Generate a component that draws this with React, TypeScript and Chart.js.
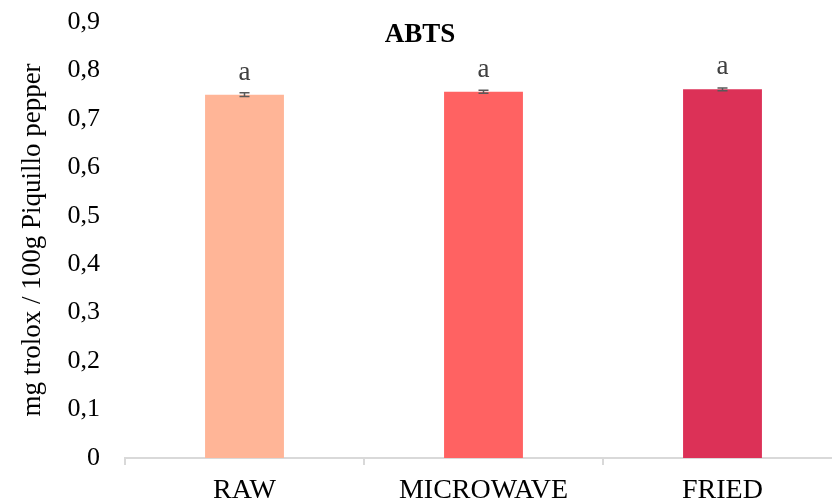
import React, { useEffect, useRef } from "react";
import { Chart, registerables } from "chart.js";

Chart.register(...registerables);

const categories = ["RAW", "MICROWAVE", "FRIED"];
const values = [0.75, 0.756, 0.761];
const errors = [0.004, 0.003, 0.003];
const letters = ["a", "a", "a"];
const barColors = ["#FFB597", "#FF6262", "#DC3157"];
const yTickValues = [0, 0.1, 0.2, 0.3, 0.4, 0.5, 0.6, 0.7, 0.8, 0.9];
const titleText = "ABTS";
const yTitle = "mg trolox / 100g Piquillo pepper";

const FONT = "'Liberation Serif', 'Times New Roman', serif";

const overlayPlugin = {
  id: "overlay",
  afterDatasetsDraw(chart: any) {
    const ctx = chart.ctx;
    const meta = chart.getDatasetMeta(0);
    const yScale = chart.scales.y;
    ctx.save();
    meta.data.forEach((bar: any, i: number) => {
      const x = bar.x;
      const yTop = yScale.getPixelForValue(values[i] + errors[i]);
      const yBot = yScale.getPixelForValue(values[i] - errors[i]);
      ctx.strokeStyle = "#595959";
      ctx.lineWidth = 1.5;
      ctx.beginPath();
      ctx.moveTo(x, yTop);
      ctx.lineTo(x, yBot);
      ctx.moveTo(x - 5, yTop);
      ctx.lineTo(x + 5, yTop);
      ctx.moveTo(x - 5, yBot);
      ctx.lineTo(x + 5, yBot);
      ctx.stroke();
      ctx.fillStyle = "#404040";
      ctx.font = `27px ${FONT}`;
      ctx.textAlign = "center";
      ctx.textBaseline = "alphabetic";
      ctx.fillText(letters[i], x, yScale.getPixelForValue(values[i]) - 15);
    });
    ctx.fillStyle = "#000000";
    ctx.font = `bold 27px ${FONT}`;
    ctx.textAlign = "center";
    ctx.textBaseline = "alphabetic";
    ctx.fillText(titleText, 420, 42);
    ctx.restore();
  },
};

export default function App() {
  const ref = useRef<HTMLCanvasElement>(null);
  useEffect(() => {
    if (!ref.current) return;
    const chart = new Chart(ref.current, {
      type: "bar",
      data: {
        labels: categories,
        datasets: [
          {
            data: values,
            backgroundColor: barColors,
            borderWidth: 0,
            categoryPercentage: 1,
            barPercentage: 0.33,
          },
        ],
      },
      options: {
        responsive: false,
        animation: false,
        layout: { padding: { top: 22, left: 0, right: 0, bottom: 0 } },
        plugins: { legend: { display: false }, tooltip: { enabled: false }, title: { display: false } },
        scales: {
          x: {
            offset: true,
            grid: {
              display: true,
              offset: true,
              drawOnChartArea: false,
              drawTicks: true,
              tickLength: 7,
              color: "#d9d9d9",
              lineWidth: 2,
            },
            border: { display: true, color: "#d9d9d9", width: 2 },
            ticks: { color: "#000000", font: { family: FONT, size: 28 }, padding: 9 },
            afterFit: (s: any) => {
              s.height = 41;
              s.paddingLeft = 0;
              s.paddingRight = 0;
            },
          },
          y: {
            min: 0,
            max: 0.9,
            afterBuildTicks: (s: any) => {
              s.ticks = yTickValues.map((v) => ({ value: v }));
            },
            grid: { display: false },
            border: { display: false },
            ticks: {
              color: "#000000",
              font: { family: FONT, size: 26 },
              padding: 17,
              callback: (v: any) => String(Math.round(Number(v) * 10) / 10).replace(".", ","),
            },
            title: {
              display: true,
              text: yTitle,
              color: "#000000",
              font: { family: FONT, size: 27 },
              padding: { top: 17, bottom: 0 },
            },
            afterFit: (s: any) => {
              s.width = 125;
              s.paddingTop = 0;
              s.paddingBottom = 0;
            },
          },
        },
      },
      plugins: [overlayPlugin],
    });
    return () => chart.destroy();
  }, []);
  return (
    <div
      style={{
        position: "fixed",
        left: 0,
        top: 0,
        width: 832,
        height: 499,
        overflow: "hidden",
        background: "#ffffff",
      }}
    >
      <canvas ref={ref} width={842} height={499} style={{ width: 842, height: 499, display: "block" }} />
    </div>
  );
}
